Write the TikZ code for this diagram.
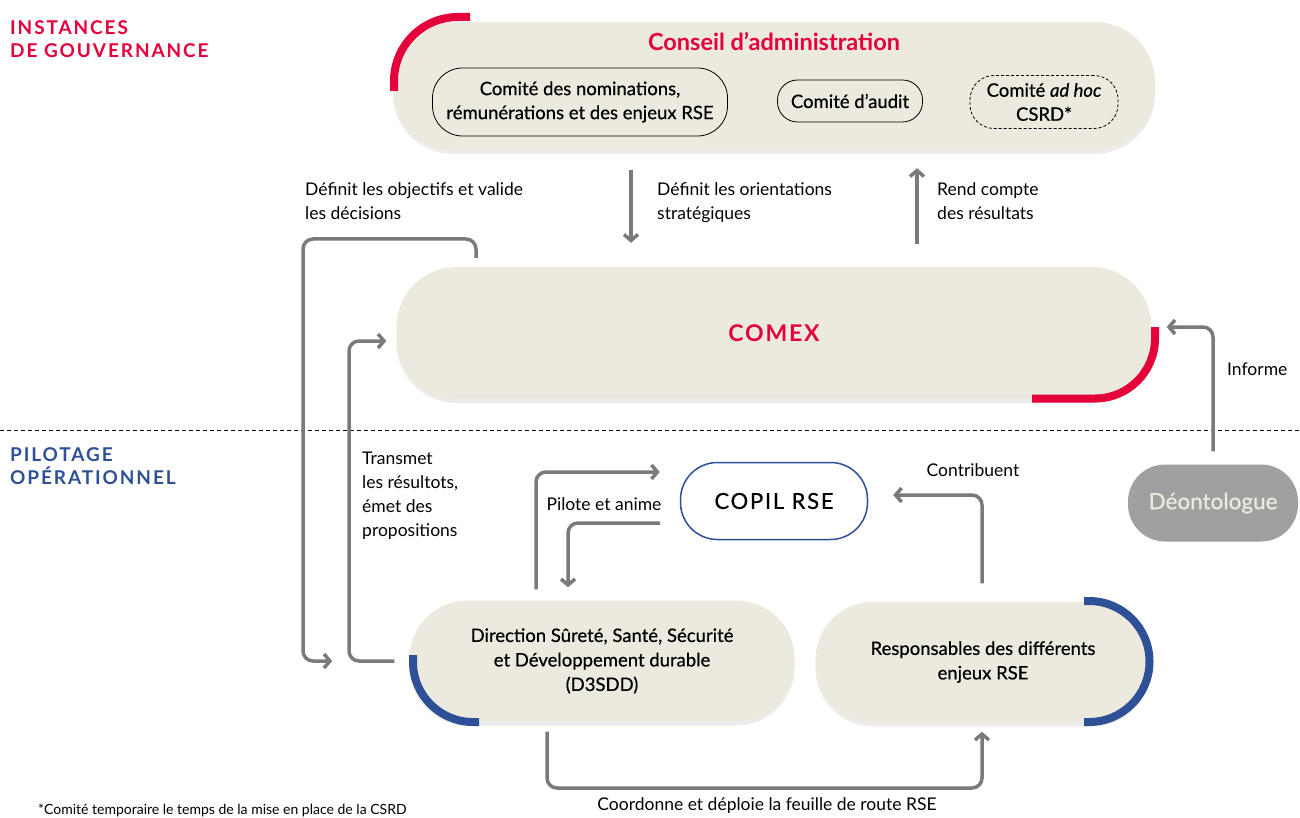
\documentclass[tikz,border=0pt]{standalone}
\usepackage{fontspec}
\setmainfont{Lato}
\newfontfamily\moyen[FakeBold=0.6]{Lato}
\usetikzlibrary{arrows.meta,shadows}

\definecolor{rouge}{HTML}{E4003A}
\definecolor{bleu}{HTML}{2E5096}
\definecolor{beige}{HTML}{ECEADF}
\definecolor{gris}{HTML}{7A7A7A}
\definecolor{grisclair}{HTML}{A0A0A0}

\begin{document}
\begin{tikzpicture}[x=1pt, y=1pt,
    every node/.style={font=\fontsize{17.5}{24}\selectfont, inner sep=0pt},
    instance/.style={fill=beige, rounded corners=60pt,
        drop shadow={shadow xshift=0pt, shadow yshift=-4pt, opacity=0.15}},
    comite/.style={draw, fill=beige, line width=0.8pt, align=center,
        font=\moyen\fontsize{18.5}{24}\selectfont},
    lien/.style={gris, line width=3.5pt, rounded corners=10pt,
        -{Straight Barb[length=6pt, width=14pt]}},
    legende/.style={anchor=north west, align=left},
    titre/.style={anchor=north west, align=left,
        font=\bfseries\fontsize{19}{23}\selectfont\addfontfeature{LetterSpace=10}}]
    \useasboundingbox (0,0) rectangle (1300,-818);

    % Section titles
    \node[titre, text=rouge] (gouvernance) at (10,-20) {INSTANCES\\DE GOUVERNANCE};
    \node[titre, text=bleu] (pilotage) at (10,-447) {PILOTAGE\\OPÉRATIONNEL};
    \draw[dash pattern=on 4pt off 3pt, line width=0.8pt] (0,-430) -- (1300,-430);

    % Conseil d'administration
    \node[instance, minimum width=762, minimum height=128] (conseil) at (774,-86) {};
    \node[text=rouge, font=\bfseries\fontsize{23.5}{26}\selectfont] (titreca) at (774,-42)
        {Conseil d’administration};
    \draw[rouge, line width=8pt] (470,-17) -- (458,-17) arc[start angle=90, end angle=180, radius=64] -- ++(0,-10);

    % Comites
    \node[comite, minimum width=295, minimum height=68, rounded corners=30] (nominations) at (580,-102)
        {Comité des nominations,\\rémunérations et des enjeux RSE};
    \node[comite, minimum width=145, minimum height=42, rounded corners=20] (audit) at (850,-101)
        {Comité d’audit};
    \node[comite, dash pattern=on 3pt off 2pt, minimum width=148, minimum height=53, rounded corners=24]
        (adhoc) at (1044,-102) {Comité \textit{ad hoc}\\CSRD*};

    % COMEX
    \node[instance, minimum width=755, minimum height=132, text=rouge,
        font=\bfseries\fontsize{23}{26}\selectfont\addfontfeature{LetterSpace=8}] (comex) at (774,-333) {COMEX};
    \draw[rouge, line width=8pt] (1032,-398.5) -- (1095,-398.5) arc[start angle=-90, end angle=0, radius=60] -- (1155,-327);

    % COPIL RSE
    \node[draw=bleu, fill=white, line width=1.5pt, rounded corners=37, minimum width=187, minimum height=77,
        font=\moyen\fontsize{22}{24}\selectfont\addfontfeature{LetterSpace=8}] (copil) at (774,-501) {COPIL RSE};

    % Deontologue
    \node[fill=grisclair, text=beige, rounded corners=37, minimum width=170, minimum height=77,
        font=\moyen\fontsize{22.5}{24}\selectfont] (deonto) at (1213,-503) {Déontologue};

    % D3SDD
    \node[instance, rounded corners=58, minimum width=385, minimum height=121, align=center,
        font=\moyen\fontsize{18.5}{24.5}\selectfont] (d3sdd) at (602,-661)
        {Direction Sûreté, Santé, Sécurité\\et Développement durable\\(D3SDD)};
    \draw[bleu, line width=8pt] (413,-655) -- (413,-662) arc[start angle=180, end angle=270, radius=60] -- (479,-722);

    % Responsables
    \node[instance, rounded corners=58, minimum width=335, minimum height=121, align=center,
        font=\moyen\fontsize{18.5}{24.5}\selectfont] (resp) at (983,-662)
        {Responsables des différents\\enjeux RSE};
    \draw[bleu, line width=8pt] (1084,-601) -- (1089,-601) arc[start angle=90, end angle=-90, radius=60.5] -- (1084,-722);

    % Arrows
    \draw[lien, shorten <=20pt, shorten >=24pt] (conseil.south -| 631,0) -- (comex.north -| 631,0);
    \draw[lien, shorten <=23pt, shorten >=18pt] (comex.north -| 917,0) -- (conseil.south -| 917,0);
    \draw[lien, shorten <=9pt, shorten >=77pt] (comex.north -| 476,0) -- (476,-239) -- (303,-239) |- (d3sdd.west);
    \draw[lien, shorten <=15pt, shorten >=10pt] (d3sdd.west) -- (349,-661) |- (comex.west |- 0,-341);
    \draw[lien, shorten <=11pt, shorten >=20pt] (d3sdd.north -| 536,0) |- (copil.west |- 0,-472);
    \draw[lien, shorten <=20pt, shorten >=13pt] (copil.west |- 0,-523) -| (d3sdd.north -| 568,0);
    \draw[lien, shorten <=18pt, shorten >=25pt] (resp.north -| 982,0) |- (copil.east |- 0,-495);
    \draw[lien, shorten <=13pt, shorten >=15pt] (deonto.north) |- (comex.east |- 0,-327);
    \draw[lien, shorten <=10pt, shorten >=9pt] (d3sdd.south -| 547,0) -- (547,-788) -| (resp.south -| 982,0);

    % Labels
    \node[legende] (objectifs) at (305,-182) {Définit les objectifs et valide\\les décisions};
    \node[legende] (orientations) at (657,-182) {Définit les orientations\\stratégiques};
    \node[legende] (rendcompte) at (937,-182) {Rend compte\\des résultats};
    \node[legende] (transmet) at (362,-452) {Transmet\\les résultots,\\émet des\\propositions};
    \node (pilote) at (604,-504) {Pilote et anime};
    \node (contribuent) at (973,-470) {Contribuent};
    \node[anchor=west] (informe) at (1227,-369) {Informe};
    \node (coordonne) at (767,-806) {Coordonne et déploie la feuille de route RSE};
    \node[anchor=south west, font=\fontsize{14}{16}\selectfont] (note) at (38,-817)
        {*Comité temporaire le temps de la mise en place de la CSRD};
\end{tikzpicture}
\end{document}
